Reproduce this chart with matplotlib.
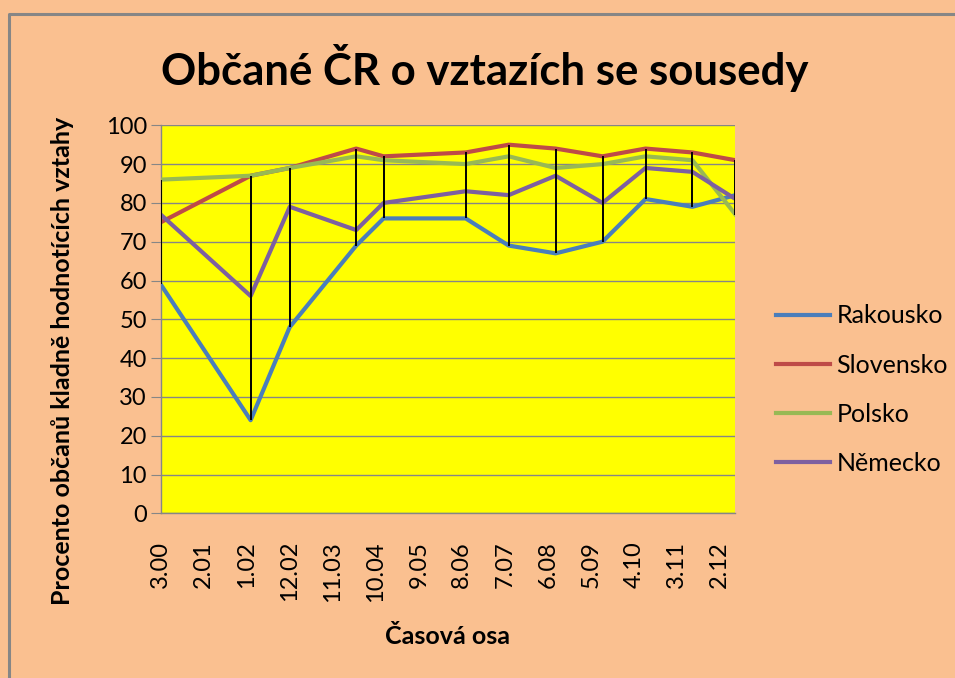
import matplotlib
matplotlib.use("Agg")
import matplotlib.pyplot as plt
from matplotlib.lines import Line2D

plt.rcParams['font.family'] = ['Lato', 'DejaVu Sans']

# survey dates (month.year) and share of citizens rating relations positively
dates = ["3.2000", "2.2002", "12.2002", "5.2004", "12.2004", "9.2006",
         "8.2007", "8.2008", "8.2009", "7.2010", "7.2011", "6.2012"]
rakousko = [59, 24, 48, 69, 76, 76, 69, 67, 70, 81, 79, 82]
slovensko = [75, 87, 89, 94, 92, 93, 95, 94, 92, 94, 93, 91]
polsko = [86, 87, 89, 92, 91, 90, 92, 89, 90, 92, 91, 77]
nemecko = [77, 56, 79, 73, 80, 83, 82, 87, 80, 89, 88, 81]
tick_labels = ["3.00", "2.01", "1.02", "12.02", "11.03", "10.04", "9.05",
               "8.06", "7.07", "6.08", "5.09", "4.10", "3.11", "2.12"]


def month_index(m, y):
    # months since March 2000 (Excel date axis in months)
    return (y - 2000) * 12 + m - 3


x = [month_index(int(d.split(".")[0]), int(d.split(".")[1])) for d in dates]
xt = [month_index(int(t.split(".")[0]), 2000 + int(t.split(".")[1])) for t in tick_labels]

series = [("Rakousko", rakousko, "#4a7ebb"),
          ("Slovensko", slovensko, "#be4b48"),
          ("Polsko", polsko, "#98b954"),
          ("Německo", nemecko, "#7d60a0")]

fig = plt.figure(figsize=(9.55, 6.78), dpi=100, facecolor="#fac090")
ax = fig.add_axes([0.1683, 0.2429, 0.6018, 0.5723])
ax.set_facecolor("#ffff00")

for name, vals, col in series:
    ax.plot(x, vals, color=col, lw=3.0, label=name, zorder=3)

# high-low lines
lows = [min(v) for v in zip(rakousko, slovensko, polsko, nemecko)]
highs = [max(v) for v in zip(rakousko, slovensko, polsko, nemecko)]
ax.vlines(x, lows, highs, color="black", lw=1.4, zorder=4)

ax.set_ylim(0, 100)
ax.set_yticks(range(0, 101, 10))
ax.set_xlim(x[0], x[-1])
ax.set_xticks(xt)
ax.set_xticklabels(tick_labels, rotation=90, va="top")
ax.grid(axis="y", color="#868686", lw=1.0)
ax.set_axisbelow(True)
for s in ["top", "right"]:
    ax.spines[s].set_visible(False)
for s in ["left", "bottom"]:
    ax.spines[s].set_color("#868686")
    ax.spines[s].set_linewidth(1.0)
ax.tick_params(axis="y", length=7, color="#868686", labelsize=17, pad=3)
ax.tick_params(axis="x", length=0, labelsize=17, pad=20)

fig.text(0.508, 0.9, "Občané ČR o vztazích se sousedy", fontsize=31.5,
         fontweight="bold", ha="center", va="center")
fig.text(0.065, 0.467, "Procento občanů kladně hodnotících vztahy", fontsize=18,
         fontweight="bold", rotation=90, ha="center", va="center")
fig.text(0.469, 0.0605, "Časová osa", fontsize=18, fontweight="bold",
         ha="center", va="center")

leg = fig.legend(loc="center left", bbox_to_anchor=(0.8126, 0.425), frameon=False,
                 fontsize=18, handlelength=2.16, handletextpad=0.25, labelspacing=1.05,
                 borderpad=0, borderaxespad=0)
for h in leg.legend_handles:
    h.set_linewidth(3.0)

# outer chart border (only its left and top edges fall inside the image)
bx, by = 8.5 / 955, 1 - 13.5 / 678
fig.lines.append(Line2D([bx, bx, 1.01], [-0.01, by, by], transform=fig.transFigure,
                        color="#868686", lw=2.2, solid_capstyle="butt"))

fig.savefig("out.png", dpi=100, facecolor=fig.get_facecolor())
